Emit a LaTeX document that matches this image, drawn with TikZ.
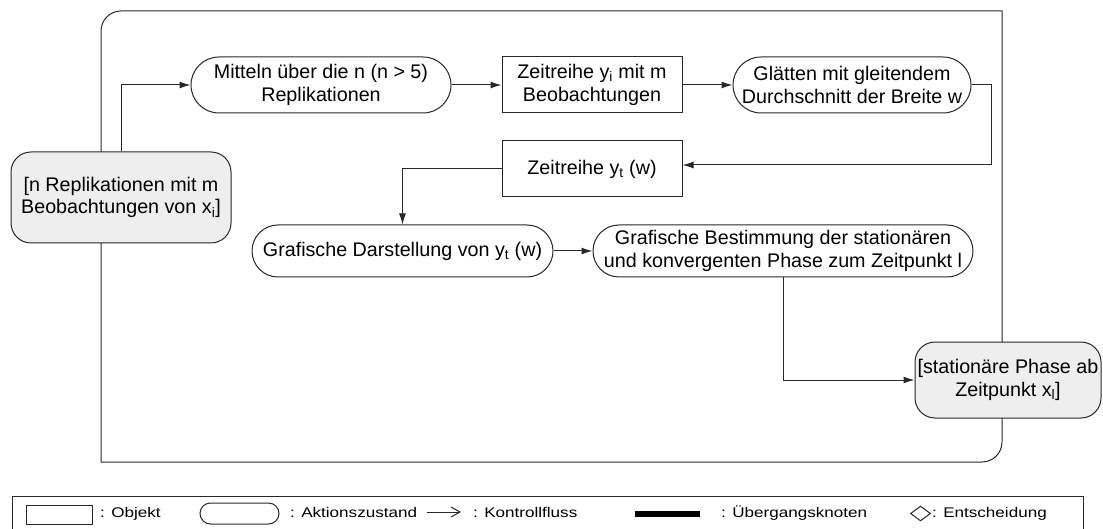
\documentclass[tikz,border=0pt]{standalone}
\usepackage{fontspec}
\setmainfont{Liberation Sans}
\newfontfamily\legendfont[FakeStretch=1.22]{Liberation Sans}
\usetikzlibrary{arrows.meta,shapes.geometric}

\definecolor{objfill}{RGB}{237,238,237}
\definecolor{linegray}{RGB}{40,40,40}

\tikzset{
  base/.style={draw=linegray, line width=1pt, inner sep=0pt, align=center,
    font=\fontsize{19.7}{22.8}\selectfont},
  objbox/.style={base, rectangle, fill=white},
  objstate/.style={base, rectangle, rounded corners=20pt, fill=objfill},
  action/.style={base, rectangle, rounded corners=#1, fill=white},
  flow/.style={draw=linegray, line width=1pt, -{Latex[length=11pt,width=7pt]}},
  frame/.style={draw=linegray, line width=1pt},
  legsym/.style={draw=linegray, line width=1pt, inner sep=0pt},
  legtext/.style={anchor=base west, inner sep=0pt,
    font=\legendfont\fontsize{14}{16}\selectfont},
  legarrow/.style={draw=linegray, line width=1pt, -{Straight Barb[length=9pt,width=10pt]}}
}

\begin{document}
\begin{tikzpicture}[x=1pt, y=-1pt]
\clip (0,0) rectangle (1103,529);
\useasboundingbox (0,0) rectangle (1103,529);

% activity frame: rounded top-left and bottom-right corners
\draw[frame] (101,462) -- (101,31) arc[start angle=180, end angle=270, radius=20]
  -- (1002,11) -- (1002,442) arc[start angle=0, end angle=90, radius=20] -- cycle;

% objects and actions
\node[objstate, minimum width=220pt, minimum height=91pt] (o1) at (121,197.5)
  {[n Replikationen mit m\\Beobachtungen von x\textsubscript{i}]};
\node[action=28pt, minimum width=260pt, minimum height=56pt] (a1) at (321,85)
  {Mitteln über die n (n > 5)\\Replikationen};
\node[objbox, minimum width=180pt, minimum height=56pt] (o2) at (592,85)
  {Zeitreihe y\textsubscript{i} mit m\\Beobachtungen};
\node[action=28pt, minimum width=238pt, minimum height=56pt] (a2) at (852,85)
  {Glätten mit gleitendem\\Durchschnitt der Breite w};
\node[objbox, minimum width=180pt, minimum height=56pt] (o3) at (592,169)
  {Zeitreihe y\textsubscript{t} (w)};
\node[action=26pt, minimum width=301pt, minimum height=52pt] (a3) at (402.5,251)
  {Grafische Darstellung von y\textsubscript{t} (w)};
\node[action=26pt, minimum width=380pt, minimum height=52pt] (a4) at (783,251)
  {Grafische Bestimmung der stationären\\und konvergenten Phase zum Zeitpunkt l};
\node[objstate, minimum width=186pt, minimum height=76pt] (o4) at (1008,380)
  {[stationäre Phase ab\\Zeitpunkt x\textsubscript{l}]};

% control flow
\draw[flow] (o1.north) |- (a1.west);
\draw[flow] (a1.east) -- (o2.west);
\draw[flow] (o2.east) -- (a2.west);
\draw[flow] (a2.east) -- ++(20,0) |- ([yshift=4pt]o3.east);
\draw[flow] (o3.west) -| (a3.north);
\draw[flow] (a3.east) -- (a4.west);
\draw[flow] (a4.south) |- (o4.west);

% legend
\draw[frame] (12,540) -- (12,496) -- (1083,496) -- (1083,540);
\node[legsym, minimum width=66pt, minimum height=19pt] (l1) at (59,514.5) {};
\node[legtext] (t1) at (100,517) {: Objekt};
\node[legsym, rounded corners=10.5pt, minimum width=79pt, minimum height=21pt] (l2) at (239.5,513.5) {};
\node[legtext] (t2) at (290,517) {: Aktionszustand};
\coordinate (la) at (427,512);
\coordinate (lb) at (461,512);
\draw[legarrow] (la) -- (lb);
\node[legtext] (t3) at (473,517) {: Kontrollfluss};
\node[fill=black, inner sep=0pt, minimum width=65pt, minimum height=6pt] (l4) at (667.5,514) {};
\node[legtext] (t4) at (721,517) {: Übergangsknoten};
\node[legsym, diamond, minimum width=20pt, minimum height=15pt] (l5) at (920.5,513.5) {};
\node[legtext] (t5) at (932,517) {: Entscheidung};
\end{tikzpicture}
\end{document}
